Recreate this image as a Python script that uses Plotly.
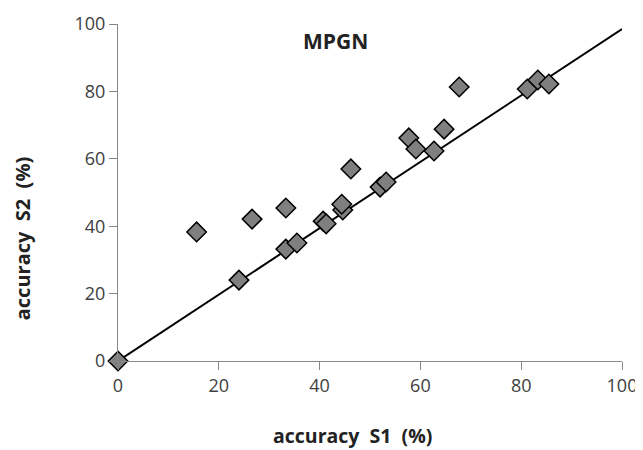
import plotly.graph_objects as go

s1 = [0, 15.6, 24.0, 26.6, 33.3, 33.3, 35.5, 40.7, 41.3, 44.6, 44.4, 46.2, 52.0, 53.2,
      57.7, 59.1, 62.7, 64.7, 67.7, 81.2, 83.3, 85.5]
s2 = [0, 38.3, 24.0, 42.1, 45.4, 33.2, 35.0, 41.5, 40.7, 44.8, 46.5, 57.0, 51.6, 53.1,
      66.2, 62.9, 62.3, 68.8, 81.3, 80.7, 83.4, 82.2]
trend_x = [0, 100]
trend_y = [0, 98.5]
ticks = [0, 20, 40, 60, 80, 100]

FONT = "Open Sans, Liberation Sans, sans-serif"

fig = go.Figure()
fig.add_trace(go.Scatter(x=trend_x, y=trend_y, mode="lines",
                         line=dict(color="black", width=2), cliponaxis=False,
                         hoverinfo="skip"))
fig.add_trace(go.Scatter(x=s1, y=s2, mode="markers", cliponaxis=False,
                         marker=dict(symbol="diamond", size=15, color="#7f7f7f",
                                     line=dict(color="black", width=1.5))))

axis_common = dict(range=[0, 100], tickvals=ticks, showgrid=False, zeroline=False,
                   showline=True, linecolor="#888888", linewidth=1,
                   ticks="outside", ticklen=8, tickcolor="#888888",
                   ticklabeloverflow="allow", automargin=False,
                   tickfont=dict(family=FONT, size=18, color="#404040"))
fig.update_xaxes(**axis_common)
fig.update_yaxes(**axis_common)

fig.add_annotation(x=0.466, y=-0.222, xref="paper", yref="paper",
                   xanchor="center", yanchor="middle",
                   text="<b>accuracy&nbsp; S1&nbsp; (%)</b>", showarrow=False,
                   font=dict(family=FONT, size=19.5, color="#222222"))
fig.add_annotation(x=-0.19, y=0.362, xref="paper", yref="paper", textangle=-90,
                   xanchor="center", yanchor="middle",
                   text="<b>accuracy&nbsp; S2&nbsp; (%)</b>", showarrow=False,
                   font=dict(family=FONT, size=20, color="#222222"))
fig.add_annotation(x=43.1, y=95, xref="x", yref="y", text="<b>MPGN</b>", showarrow=False,
                   font=dict(family=FONT, size=21, color="#222222"))
fig.update_layout(width=635, height=442, showlegend=False,
                  plot_bgcolor="white", paper_bgcolor="white",
                  margin=dict(l=110, r=21, t=16, b=89))
fig.write_html("out.html")
